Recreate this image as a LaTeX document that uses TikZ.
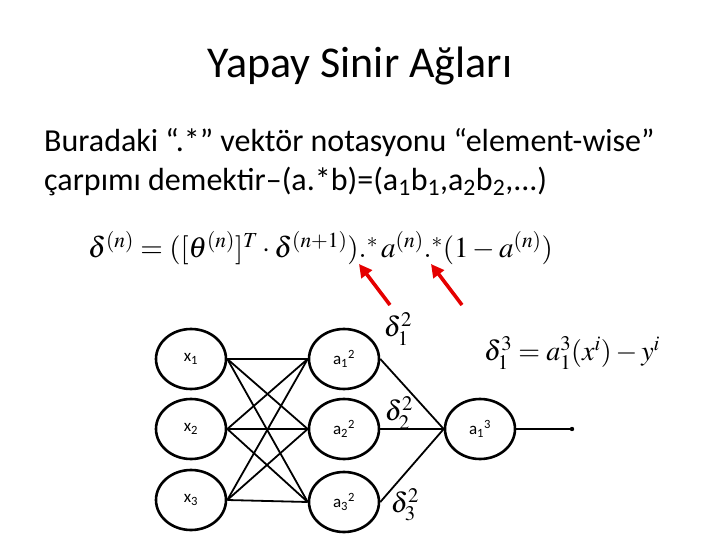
\documentclass[tikz,border=0pt]{standalone}
\usepackage{mathptmx}
\usepackage[no-math]{fontspec}
\setmainfont{Carlito}
\usetikzlibrary{shapes.geometric,arrows.meta}
\begin{document}
\begin{tikzpicture}[x=1pt,y=-1pt,
  neuron/.style={draw,ellipse,line width=2.6pt,minimum width=70pt,minimum height=60pt,inner sep=0pt,font=\fontsize{17}{19}\selectfont},
  link/.style={line width=1.8pt},
  pointer/.style={line width=3.6pt,red!90!black,-{Triangle[length=13pt,width=13pt]}},
  delta/.style={inner sep=0pt,font=\fontsize{28}{32}\selectfont}]
  \useasboundingbox (0,0) rectangle (720,540);
  % heading and explanation
  \node[anchor=base,inner sep=0pt,font=\fontsize{44}{50}\selectfont] (title) at (360,78) {Yapay Sinir Ağları};
  \node[anchor=base west,inner sep=0pt,font=\fontsize{32}{38}\selectfont] (line1) at (44,152) {Buradaki “.*” vektör notasyonu “element-wise”};
  \node[anchor=base west,inner sep=0pt,font=\fontsize{32}{38}\selectfont] (line2) at (44,191) {çarpımı demektir–(a.*b)=(a\textsubscript{1}b\textsubscript{1},a\textsubscript{2}b\textsubscript{2},...)};
  \node[anchor=base west,inner sep=0pt,font=\fontsize{29}{34}\selectfont] (rule) at (88,258) {$\delta^{(n)}=([\theta^{(n)}]^T\cdot\delta^{(n+1)}).^{*}\,a^{(n)}.^{*}(1-a^{(n)})$};
  % red pointers to the two products
  \coordinate (p1) at (390,305);
  \coordinate (q1) at (359,264);
  \coordinate (p2) at (462,305);
  \coordinate (q2) at (431,264);
  \draw[pointer] (p1) -- (q1);
  \draw[pointer] (p2) -- (q2);
  % network
  \node[neuron] (x1) at (191,359) {x\textsubscript{1}};
  \node[neuron] (x2) at (191,429) {x\textsubscript{2}};
  \node[neuron] (x3) at (191,500) {x\textsubscript{3}};
  \node[neuron] (a1) at (344,359) {a\textsubscript{1}\textsuperscript{2}};
  \node[neuron] (a2) at (344,429) {a\textsubscript{2}\textsuperscript{2}};
  \node[neuron] (a3) at (344,502) {a\textsubscript{3}\textsuperscript{2}};
  \node[neuron] (out) at (480,429) {a\textsubscript{1}\textsuperscript{3}};
  \foreach \i in {1,2,3}
    \foreach \j in {1,2,3}
      \draw[link] (x\i.east) -- (a\j.west);
  \foreach \j in {1,2,3}
    \draw[link] (a\j.east) -- (out.west);
  \coordinate (end) at (572,429);
  \draw[link] (out) -- (end);
  \fill (end) circle (2.2pt);
  % error terms
  \node[delta] (d1) at (398,329) {$\delta^2_1$};
  \node[delta] (d2) at (399,413) {$\delta^2_2$};
  \node[delta] (d3) at (405,505) {$\delta^2_3$};
  \node[delta] (d4) at (572,353) {$\delta^3_1=a^3_1(x^i)-y^i$};
\end{tikzpicture}
\end{document}
